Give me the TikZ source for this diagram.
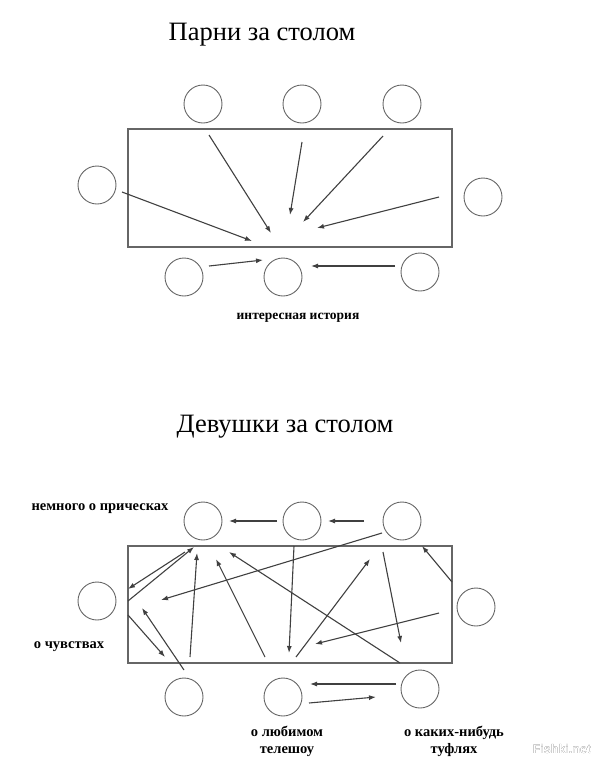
\documentclass[tikz,border=0pt]{standalone}
\usepackage{fontspec}
\setmainfont{Liberation Serif}
\newfontfamily\markfont{Liberation Sans}
\usepackage[outline]{contour}
\contourlength{0.9pt}
\usetikzlibrary{arrows.meta}

\begin{document}
\begin{tikzpicture}[x=1pt,y=-1pt,
  seat/.style={draw=black!60,line width=0.9pt,circle,minimum size=38pt,inner sep=0pt},
  desk/.style={draw=black!60,line width=1.4pt,minimum width=324pt,inner sep=0pt},
  talk/.style={draw=black!75,line width=1.1pt,-{Latex[length=7pt,width=5pt]}},
  caption/.style={font=\fontsize{26.5}{30}\selectfont,anchor=base},
  note/.style={font=\bfseries\fontsize{14.5}{17}\selectfont,anchor=base,align=center}]
\useasboundingbox (0,0) rectangle (600,761);

% парни
\node[caption] (title1) at (262,40) {Парни за столом};
\node[desk,minimum height=118pt] (table1) at (290,188) {};
\foreach \i/\x/\y in {1/203/104,2/302/104,3/402/104,4/97/185,5/483/197,6/184/277,7/283/277,8/420/272}
  \node[seat] (m\i) at (\x,\y) {};
\foreach \i/\sx/\sy/\ex/\ey in {1/122/192/252/241,2/209/135/271/233,3/302/142/290/215,
    4/383/136/303/222,5/439/197/317/228,6/209/266/263/260,7/395/266/311/266}
  {\coordinate (ms\i) at (\sx,\sy);
   \coordinate (me\i) at (\ex,\ey);
   \draw[talk] (ms\i) -- (me\i);}
\node[note,font=\bfseries\fontsize{13.5}{15}\selectfont] (story) at (298,319) {интересная история};

% девушки
\node[caption] (title2) at (285,432) {Девушки за столом};
\node[desk,minimum height=117pt] (table2) at (290,604.5) {};
\foreach \i/\x/\y in {1/203/521,2/302/521,3/402/521,4/97/601,5/476/607,6/184/697,7/283/697,8/420/689}
  \node[seat] (g\i) at (\x,\y) {};
\foreach \i/\sx/\sy/\ex/\ey in {1/277/521/229/521,2/364/521/328/521,3/396/684/310/684,4/309/703/376/697,
    5/185/552/128/589,6/128/601/194/547,7/128/615/165/657,8/184/670/142/608,
    9/190/657/197/553,10/265/657/216/559,11/400/663/229/552,12/382/533/161/600,
    13/294/546/289/653,14/296/657/370/559,15/383/552/401/643,16/439/613/315/644,17/452/582/422/546}
  {\coordinate (gs\i) at (\sx,\sy);
   \coordinate (ge\i) at (\ex,\ey);
   \draw[talk] (gs\i) -- (ge\i);}
\node[note] (hair) at (100,510) {немного о прическах};
\node[note] (feel) at (69,648) {о чувствах};
\node[note] (show) at (287,753) {о любимом\\телешоу};
\node[note] (shoes) at (454,753) {о каких-нибудь\\туфлях};
\node[anchor=base,font=\markfont\bfseries\fontsize{12.5}{14}\selectfont] (mark) at (562,753)
  {\contour{black!80}{\textcolor{white}{Fishki.net}}};
\end{tikzpicture}
\end{document}
